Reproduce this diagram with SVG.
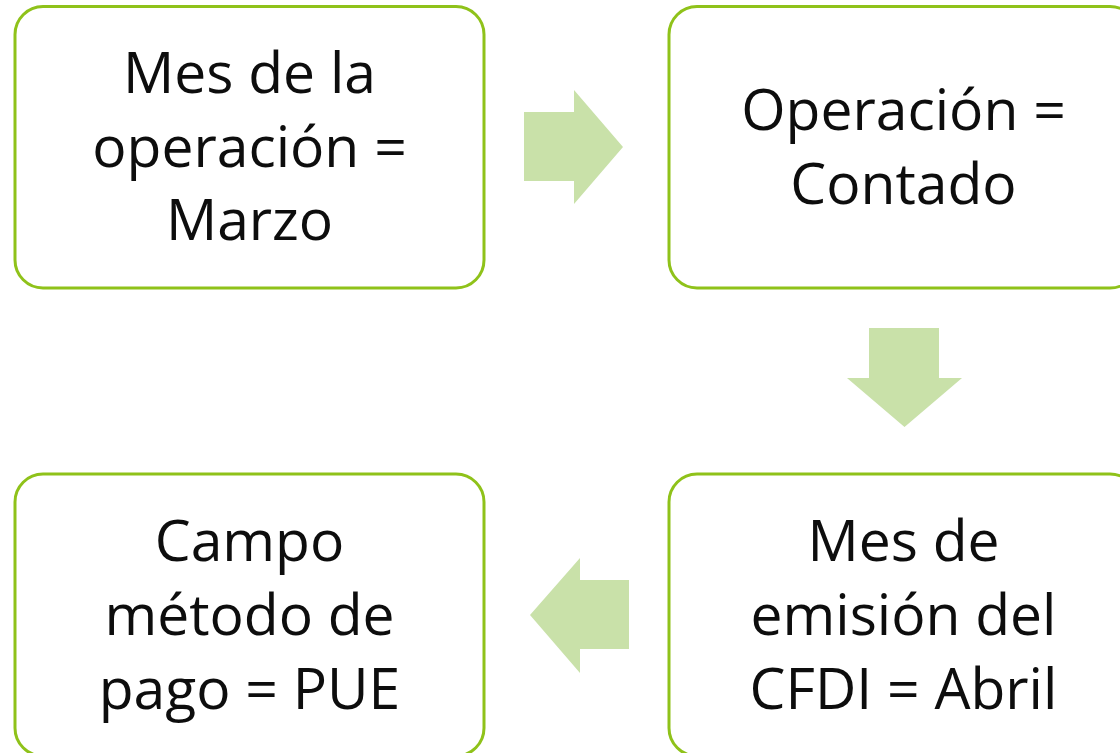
<svg xmlns="http://www.w3.org/2000/svg" width="1120" height="753" viewBox="0 0 1120 753">
<style>
.box{fill:#ffffff;stroke:#8fc21a;stroke-width:3}
.arr{fill:#c9e1a9;stroke:none}
.t{font-family:"Open Sans","Liberation Sans",sans-serif;font-size:57px;fill:#0d0d0d;text-anchor:middle}
</style>
<rect width="1120" height="753" fill="#ffffff"/>
<g id="connectors">
<polygon class="arr" points="524,112 574,112 574,90 623,147 574,204 574,181 524,181"/>
<polygon class="arr" points="869,328 939,328 939,378 962,378 904.5,427 847,378 869,378"/>
<polygon class="arr" points="629,580 580,580 580,558 530,615 580,673 580,649 629,649"/>
</g>
<g id="node1">
<rect class="box" x="15" y="6.5" width="469" height="281.5" rx="28" ry="28"/>
<text class="t" x="249.5" y="93">Mes de la</text>
<text class="t" x="249.5" y="167">operación =</text>
<text class="t" x="249.5" y="240">Marzo</text>
</g>
<g id="node2">
<rect class="box" x="669" y="6.5" width="469" height="281.5" rx="28" ry="28"/>
<text class="t" x="903.5" y="130">Operación =</text>
<text class="t" x="903.5" y="204">Contado</text>
</g>
<g id="node3">
<rect class="box" x="669" y="474" width="469" height="282" rx="28" ry="28"/>
<text class="t" x="903.5" y="561">Mes de</text>
<text class="t" x="903.5" y="635">emisión del</text>
<text class="t" x="903.5" y="709">CFDI = Abril</text>
</g>
<g id="node4">
<rect class="box" x="15" y="474" width="469" height="282" rx="28" ry="28"/>
<text class="t" x="249.5" y="561">Campo</text>
<text class="t" x="249.5" y="635">método de</text>
<text class="t" x="249.5" y="709">pago = PUE</text>
</g>
</svg>
